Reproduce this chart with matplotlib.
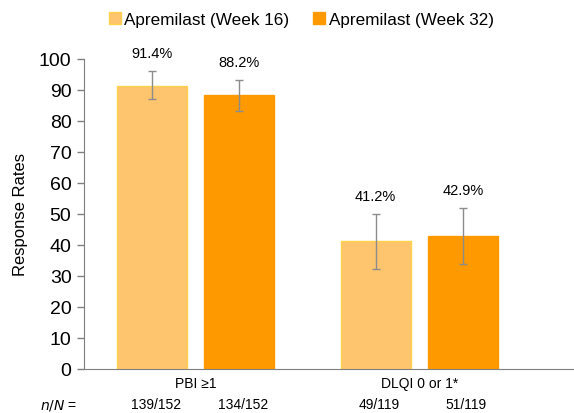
import matplotlib.pyplot as plt
import numpy as np

plt.rcParams['font.family'] = ['Liberation Sans', 'DejaVu Sans']

categories = ["PBI \u22651", "DLQI 0 or 1*"]
series = ["Apremilast (Week 16)", "Apremilast (Week 32)"]
week16 = [91.4, 41.2]
week32 = [88.2, 42.9]
week16_ci = [(87.0, 96.0), (32.3, 50.0)]
week32_ci = [(83.2, 93.2), (34.0, 51.8)]
week16_n = ["139/152", "49/119"]
week32_n = ["134/152", "51/119"]

colors = ["#FEC46E", "#FF9900"]
edges = ["#FFD24D", "#FF9900"]

fig = plt.figure(figsize=(5.74, 4.14), dpi=100)
ax = fig.add_axes([0.1463, 0.1063, 0.852, 0.749])

centers = np.array([1.6, 4.8])
offset = 0.625
width = 1.0

for i, (vals, ci, nn) in enumerate([(week16, week16_ci, week16_n), (week32, week32_ci, week32_n)]):
    xs = centers + (-offset if i == 0 else offset)
    lo = [v - c[0] for v, c in zip(vals, ci)]
    hi = [c[1] - v for v, c in zip(vals, ci)]
    ax.bar(xs, vals, width, color=colors[i], edgecolor=edges[i], linewidth=1,
           label=series[i], zorder=2)
    ax.errorbar(xs, vals, yerr=[lo, hi], fmt="none", ecolor="#8c8c8c",
                elinewidth=1, capsize=3, capthick=1, zorder=3)
    for x, v, c, n in zip(xs, vals, ci, nn):
        ax.annotate(f"{v:.1f}%", (x, c[1]), xytext=(0, 8), textcoords="offset points",
                    ha="center", va="bottom", fontsize=10.5)
        ax.text(x + 0.05, -0.113, n, transform=ax.get_xaxis_transform(), ha="center",
                va="center", fontsize=10)

for c, lab in zip(centers, categories):
    ax.text(c, -0.045, lab, transform=ax.get_xaxis_transform(), ha="center",
            va="center", fontsize=10)
ax.text(-0.014, -0.113, "$n/N$ =", transform=ax.transAxes, ha="right",
        va="center", fontsize=10)

ax.set_xlim(0, 7)
ax.set_ylim(0, 100)
ax.set_yticks(range(0, 101, 10))
ax.tick_params(axis="y", labelsize=14, length=5, color="#7f7f7f", width=1, pad=4)
ax.set_xticks([])
ax.set_ylabel("Response Rates", fontsize=12, labelpad=8)
for s in ["top", "right"]:
    ax.spines[s].set_visible(False)
for s in ["left", "bottom"]:
    ax.spines[s].set_color("#7f7f7f")

fig.legend(loc="center", bbox_to_anchor=(0.525, 0.95), ncol=2, frameon=False,
           fontsize=12.3, handlelength=0.7, handleheight=0.7, handletextpad=0.2,
           columnspacing=1.4)

fig.savefig("out.png", dpi=100)
